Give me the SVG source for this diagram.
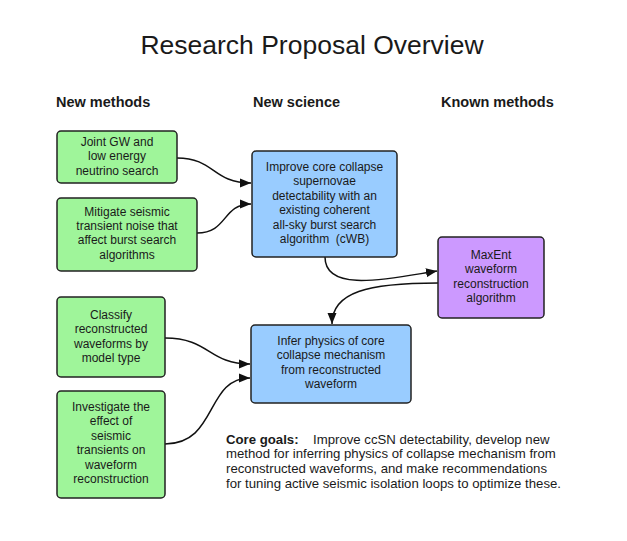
<svg xmlns="http://www.w3.org/2000/svg" width="627" height="541" viewBox="0 0 627 541">
<style>
text{font-family:"Liberation Sans",Arial,sans-serif;fill:#1a1a1a}
.t{font-size:12px;text-anchor:middle}
.h{font-size:14.5px;font-weight:bold}
.box{stroke:#222;stroke-width:1.5}
.g{fill:#9ff59a}
.b{fill:#99ccff}
.p{fill:#cc99ff}
.c{fill:none;stroke:#111;stroke-width:1.5}
</style>
<defs>
<marker id="ah" markerUnits="userSpaceOnUse" markerWidth="12" markerHeight="10" refX="11" refY="5" orient="auto">
<path d="M0,0.5 L11,5 L0,9.5 Z" fill="#111"/>
</marker>
</defs>
<rect width="627" height="541" fill="#fff"/>
<text x="312" y="53.5" style="font-size:26.5px;text-anchor:middle">Research Proposal Overview</text>
<text class="h" x="56" y="107">New methods</text>
<text class="h" x="253" y="107">New science</text>
<text class="h" x="441" y="107">Known methods</text>

<g id="connectors">
<path class="c" d="M177,158 C215,158 212,183 251,183" marker-end="url(#ah)"/>
<path class="c" d="M197,233 C228,233 222,204 251,204" marker-end="url(#ah)"/>
<path class="c" d="M325,257 C325,294 392,278 437,271" marker-end="url(#ah)"/>
<path class="c" d="M438,283 C368,283 332,292 332,324" marker-end="url(#ah)"/>
<path class="c" d="M165,338 C210,338 208,364 250,364" marker-end="url(#ah)"/>
<path class="c" d="M165,444 C218,444 205,378 250,378" marker-end="url(#ah)"/>
</g>

<g id="n_joint">
<rect class="box g" x="57" y="131" width="120" height="52" rx="4"/>
<text class="t" x="117" y="146"><tspan x="117">Joint GW and</tspan><tspan x="117" dy="14.4">low energy</tspan><tspan x="117" dy="14.4">neutrino search</tspan></text>
</g>
<g id="n_mitigate">
<rect class="box g" x="57" y="198" width="140" height="73" rx="4"/>
<text class="t" x="127" y="215.5"><tspan x="127">Mitigate seismic</tspan><tspan x="127" dy="14.4">transient noise that</tspan><tspan x="127" dy="14.4">affect burst search</tspan><tspan x="127" dy="14.4">algorithms</tspan></text>
</g>
<g id="n_classify">
<rect class="box g" x="57" y="297" width="108" height="80" rx="4"/>
<text class="t" x="111" y="319"><tspan x="111">Classify</tspan><tspan x="111" dy="14.4">reconstructed</tspan><tspan x="111" dy="14.4">waveforms by</tspan><tspan x="111" dy="14.4">model type</tspan></text>
</g>
<g id="n_investigate">
<rect class="box g" x="57" y="391" width="108" height="107" rx="4"/>
<text class="t" x="111" y="411"><tspan x="111">Investigate the</tspan><tspan x="111" dy="14.4">effect of</tspan><tspan x="111" dy="14.4">seismic</tspan><tspan x="111" dy="14.4">transients on</tspan><tspan x="111" dy="14.4">waveform</tspan><tspan x="111" dy="14.4">reconstruction</tspan></text>
</g>
<g id="n_improve">
<rect class="box b" x="252" y="151" width="145" height="106" rx="4"/>
<text class="t" x="324.5" y="171"><tspan x="324.5">Improve core collapse</tspan><tspan x="324.5" dy="14.4">supernovae</tspan><tspan x="324.5" dy="14.4">detectability with an</tspan><tspan x="324.5" dy="14.4">existing coherent</tspan><tspan x="324.5" dy="14.4">all-sky burst search</tspan><tspan x="324.5" dy="14.4" xml:space="preserve">algorithm  (cWB)</tspan></text>
</g>
<g id="n_infer">
<rect class="box b" x="251" y="325" width="160" height="78" rx="4"/>
<text class="t" x="331" y="345"><tspan x="331">Infer physics of core</tspan><tspan x="331" dy="14.4">collapse mechanism</tspan><tspan x="331" dy="14.4">from reconstructed</tspan><tspan x="331" dy="14.4">waveform</tspan></text>
</g>
<g id="n_maxent">
<rect class="box p" x="438" y="237" width="106" height="81" rx="4"/>
<text class="t" x="491" y="259"><tspan x="491">MaxEnt</tspan><tspan x="491" dy="14.4">waveform</tspan><tspan x="491" dy="14.4">reconstruction</tspan><tspan x="491" dy="14.4">algorithm</tspan></text>
</g>

<g id="core_goals" style="font-size:13.2px">
<text x="226" y="443.5"><tspan font-weight="bold">Core goals:</tspan><tspan x="313">Improve ccSN detectability, develop new</tspan><tspan x="226" dy="14.8">method for inferring physics of collapse mechanism from</tspan><tspan x="226" dy="14.8">reconstructed waveforms, and make recommendations</tspan><tspan x="226" dy="14.8">for tuning active seismic isolation loops to optimize these.</tspan></text>
</g>
</svg>
